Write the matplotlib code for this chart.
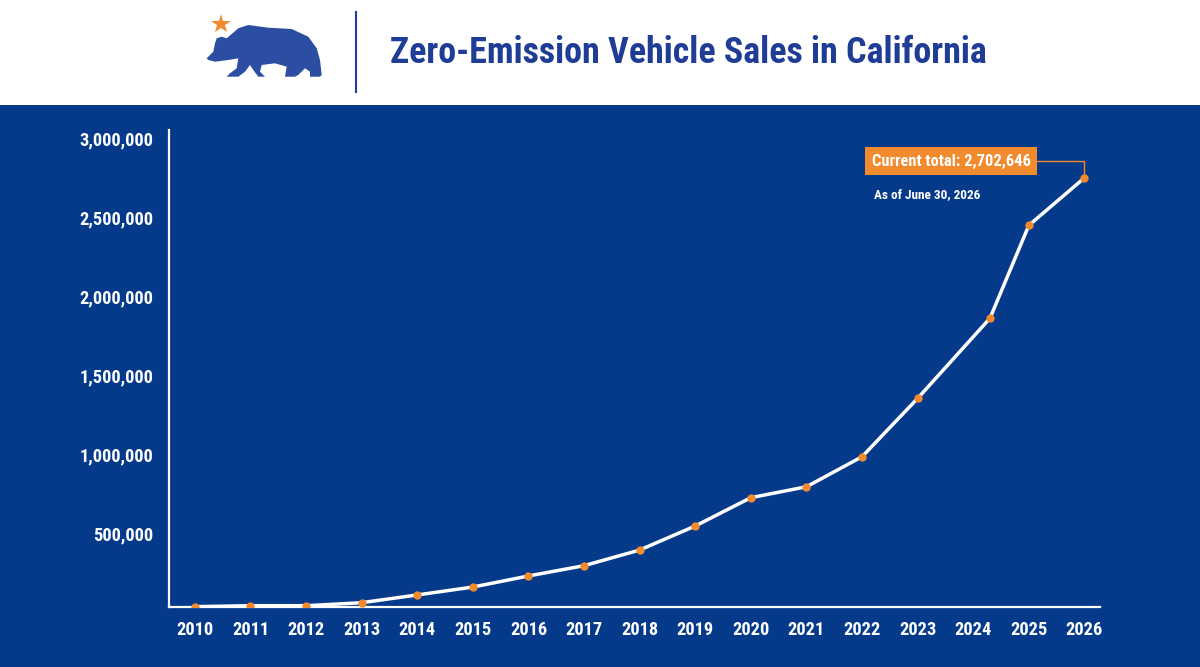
import matplotlib.pyplot as plt
from matplotlib import font_manager
from matplotlib.patches import Polygon, Rectangle
from matplotlib.ticker import FuncFormatter

# cumulative ZEV sales
years = [2010, 2011, 2012, 2013, 2014, 2015, 2016, 2017, 2018,
         2019, 2020, 2021, 2022, 2023, 2024, 2025, 2026]
sale_x = [2010, 2011, 2012, 2013, 2014, 2015, 2016, 2017, 2018,
          2019, 2020, 2021, 2022, 2023, 2024.3, 2025, 2026]
sales = [40000, 46000, 46000, 65000, 114000, 164000, 234000, 299000, 398000,
         550000, 729000, 798000, 988000, 1357000, 1863000, 2451000, 2751000]
y_ticks = [500000, 1000000, 1500000, 2000000, 2500000, 3000000]
total_label = "Current total: 2,702,646"
as_of_label = "As of June 30, 2026"
title = "Zero-Emission Vehicle Sales in California"

navy = "#053a8a"
orange = "#f28a2e"
bear_blue = "#2b4ea3"
title_blue = "#1f3c96"

# pick the narrowest installed family
installed = {f.name for f in font_manager.fontManager.ttflist}
narrow = [f for f in ["Roboto Condensed", "Liberation Sans Narrow", "DejaVu Sans Condensed",
                      "Open Sans Condensed", "Roboto", "Lato"] if f in installed]
fonts = narrow[:1] + ["DejaVu Sans"]
txt_kw = dict(family=fonts, weight="bold", stretch="condensed")

fig = plt.figure(figsize=(12, 6.67), dpi=100, facecolor=navy)
renderer = fig.canvas.get_renderer()


def size_for(s, width_px, **kw):
    # font size that makes string s about width_px wide
    probe = fig.text(0, 0, s, fontsize=12, **kw)
    w = probe.get_window_extent(renderer).width
    probe.remove()
    return 12 * width_px / w


# header band with logo, drawn in pixel coordinates
hd = fig.add_axes([0, 0, 1, 1], zorder=0)
hd.set_xlim(0, 1200)
hd.set_ylim(667, 0)
hd.axis("off")
hd.add_patch(Rectangle((0, 0), 1200, 105, facecolor="white", edgecolor="none"))
bear = [(206.7, 58.3), (213.3, 51.7), (215, 43.3), (216.7, 38.3), (221.7, 36.7),
        (226.7, 38.3), (238.3, 28.3), (248.3, 25), (268.3, 27.7), (291.7, 29),
        (308.3, 36.7), (316.7, 48.3), (320, 60), (321.7, 75), (320, 76.7), (310, 76.7),
        (310, 71.7), (305, 68.3), (298.3, 75), (295, 76.7), (285, 76.7), (286.7, 66.7),
        (275, 63.3), (261.7, 65), (260, 71.7), (265, 76.7), (258.3, 76.7), (253.3, 70),
        (250, 65), (245, 71.7), (238.3, 76.7), (226.7, 76.7), (230, 73.3), (236.7, 68.3),
        (238.3, 58.3), (228.3, 60), (215, 61.7), (208.3, 60)]
hd.add_patch(Polygon(bear, closed=True, facecolor=bear_blue, edgecolor="none"))
hd.plot([220.5], [24], marker="*", markersize=15, color=orange, markeredgewidth=0)
hd.plot([356, 356], [12, 92], color=title_blue, lw=1.5)
fig.text(390 / 1200, 1 - 53 / 667, title, fontsize=size_for(title, 600, **txt_kw),
         color=title_blue, ha="left", va="center", **txt_kw)

ax = fig.add_axes([0.1406, 0.09, 0.9167 - 0.1406, 0.805 - 0.09], zorder=1)
ax.set_facecolor("none")
ax.plot(sale_x, sales, color="white", lw=2.5, zorder=3)
ax.plot(sale_x, sales, "o", color=orange, markersize=6, markeredgewidth=0, zorder=4)

ax.set_xlim(2009.53, 2026.28)
ax.set_ylim(38000, 3053000)
ax.set_xticks(years)
ax.set_xticklabels([str(y) for y in years])
ax.set_yticks(y_ticks)
ax.yaxis.set_major_formatter(FuncFormatter(lambda v, p: f"{int(v):,}"))
for s in ["top", "right"]:
    ax.spines[s].set_visible(False)
for s in ["left", "bottom"]:
    ax.spines[s].set_color("white")
    ax.spines[s].set_linewidth(1.6)
ax.tick_params(axis="both", length=0, colors="white")
ax.tick_params(axis="x", pad=10)
ax.tick_params(axis="y", pad=11)

tick_size = min(size_for("3,000,000", 74, **txt_kw), 14)
for lab in ax.get_xticklabels() + ax.get_yticklabels():
    lab.set_family(fonts)
    lab.set_weight("bold")
    lab.set_stretch("condensed")
    lab.set_fontsize(tick_size)

ax.annotate(total_label, xy=(sale_x[-1], sales[-1]), xytext=(2023.6, 2857000),
            fontsize=size_for(total_label, 158, **txt_kw),
            color="white", ha="center", va="center",
            bbox=dict(boxstyle="square,pad=0.42", facecolor=orange, edgecolor="none"),
            arrowprops=dict(arrowstyle="-", color=orange, lw=1,
                            connectionstyle="angle,angleA=0,angleB=90,rad=0",
                            shrinkA=0, shrinkB=3),
            **txt_kw)
ax.text(2022.21, 2648000, as_of_label, fontsize=size_for(as_of_label, 106, **txt_kw),
        color="white", ha="left", va="center", **txt_kw)

plt.savefig("out.png", dpi=100, facecolor=navy)
